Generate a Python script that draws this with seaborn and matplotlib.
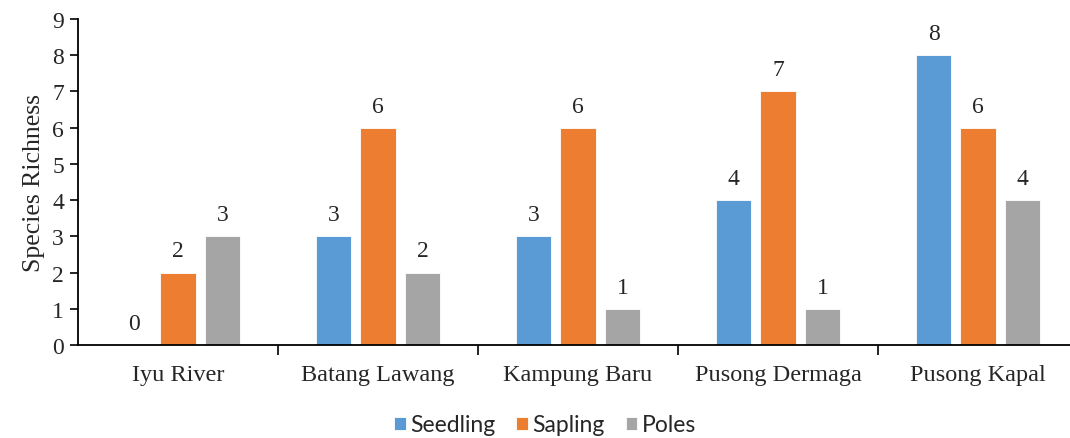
import matplotlib
matplotlib.use("Agg")
import matplotlib.pyplot as plt
from matplotlib.ticker import FixedLocator
import seaborn as sns
import pandas as pd

sites = ["Iyu River", "Batang Lawang", "Kampung Baru", "Pusong Dermaga", "Pusong Kapal"]
seedling = [0, 3, 3, 4, 8]
sapling = [2, 6, 6, 7, 6]
poles = [3, 2, 1, 1, 4]
stages = ["Seedling", "Sapling", "Poles"]
colors = ["#5B9BD5", "#ED7D31", "#A5A5A5"]

df = pd.DataFrame({
    "Site": sites * 3,
    "Stage": [s for s in stages for _ in sites],
    "Richness": seedling + sapling + poles,
})

sns.set_style("white")
plt.rcParams["font.family"] = ["Liberation Serif", "DejaVu Serif"]

fig = plt.figure(figsize=(10.70, 4.39), dpi=100)
ax = fig.add_axes([78 / 1070, 1 - 346 / 439, 1000 / 1070, 326 / 439])

sns.barplot(data=df, x="Site", y="Richness", hue="Stage", hue_order=stages,
            palette=colors, width=0.667, gap=0.21, ax=ax,
            edgecolor="white", linewidth=0.6, saturation=1, errorbar=None)

for cont in ax.containers:
    ax.bar_label(cont, fmt="%d", padding=8, fontsize=17)

ax.set_xlim(-0.5, 4.5)
ax.set_ylim(0, 9)
ax.set_yticks(range(0, 10))
ax.tick_params(axis="y", which="major", labelsize=17, length=6, width=1.2,
               direction="out", color="black", pad=4, left=True)
ax.tick_params(axis="x", which="major", labelsize=17.5, length=0, pad=14)
ax.xaxis.set_minor_locator(FixedLocator([0.5, 1.5, 2.5, 3.5]))
ax.tick_params(axis="x", which="minor", length=7, width=1.2, direction="out",
               color="black", bottom=True)

ax.set_xlabel("")
ax.set_ylabel("Species Richness", fontsize=18.5, labelpad=5)

for side in ["top", "right"]:
    ax.spines[side].set_visible(False)
for side in ["left", "bottom"]:
    ax.spines[side].set_color("black")
    ax.spines[side].set_linewidth(1.3)

handles, labels = ax.get_legend_handles_labels()
ax.legend(handles, labels, loc="center", bbox_to_anchor=(545 / 1070, 1 - 426 / 439),
          bbox_transform=fig.transFigure, ncol=3, frameon=False,
          prop={"family": "Lato", "size": 16.5}, handlelength=0.52, handleheight=0.52,
          handletextpad=0.2, columnspacing=0.9)

fig.savefig("out.png", dpi=100)
